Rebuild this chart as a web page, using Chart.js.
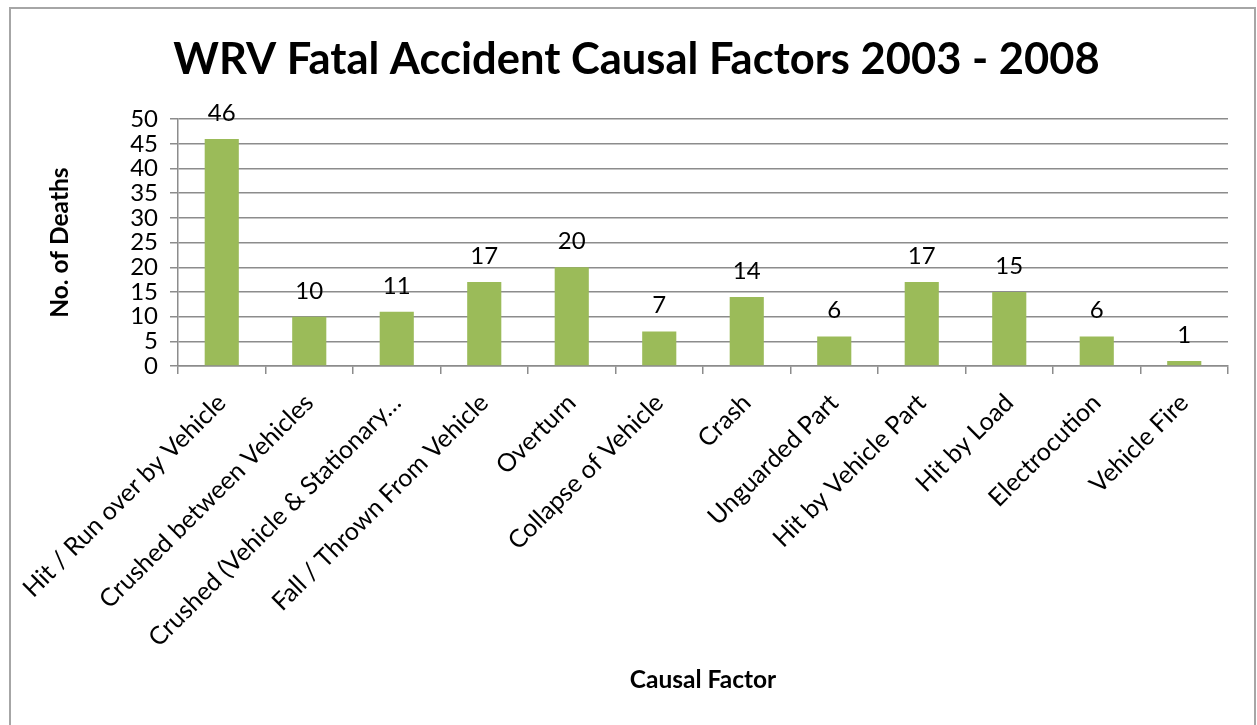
<!DOCTYPE html>
<html>
<head>
<meta charset="utf-8">
<script src="https://cdn.jsdelivr.net/npm/chart.js@4.4.0/dist/chart.umd.min.js"></script>
<style>
  body { margin: 0; background: #fff; }
  #wrap { position: relative; width: 1257px; height: 725px; overflow: hidden; }
  #frame { position: absolute; left: 9px; top: 7px; width: 1243px; height: 740px; border: 2px solid #a6a6a6; }
  canvas { position: absolute; left: 0; top: 0; }
</style>
</head>
<body>
<div id="wrap">
  <canvas id="mycanvas" width="1257" height="725"></canvas>
  <div id="frame"></div>
</div>
<script>
var categories = [
  "Hit / Run over by Vehicle",
  "Crushed between Vehicles",
  "Crushed (Vehicle & Stationary\u2026",
  "Fall / Thrown From Vehicle",
  "Overturn",
  "Collapse of Vehicle",
  "Crash",
  "Unguarded Part",
  "Hit by Vehicle Part",
  "Hit by Load",
  "Electrocution",
  "Vehicle Fire"
];
var deaths = [46, 10, 11, 17, 20, 7, 14, 6, 17, 15, 6, 1];
var yMax = 50;
var yStep = 5;

var gridColor = "#8c8c8c";
var fontName = "Lato";

// value labels over each bar
var barLabels = {
  id: "barLabels",
  afterDatasetsDraw: function(chart) {
    var ctx = chart.ctx;
    var meta = chart.getDatasetMeta(0);
    ctx.save();
    ctx.font = "24px " + fontName;
    ctx.fillStyle = "#000";
    ctx.textAlign = "center";
    ctx.textBaseline = "alphabetic";
    meta.data.forEach(function(bar, i) {
      ctx.fillText(deaths[i], bar.x, bar.y - 18);
    });
    ctx.restore();
  }
};

Chart.defaults.font.family = fontName;
Chart.defaults.color = "#000";

var ctx = document.getElementById("mycanvas");

var chart = new Chart(ctx, {
  type: "bar",
  data: {
    labels: categories,
    datasets: [{
      label: "No. of Deaths",
      data: deaths,
      backgroundColor: "#9bbb59",
      borderWidth: 0,
      categoryPercentage: 1,
      barPercentage: 0.39
    }]
  },
  plugins: [barLabels],
  options: {
    responsive: false,
    animation: false,
    devicePixelRatio: 1,
    layout: { padding: { left: 45, right: 29, top: 34, bottom: 30 } },
    plugins: {
      legend: { display: false },
      tooltip: { enabled: false },
      title: {
        display: true,
        text: "WRV Fatal Accident Causal Factors 2003 - 2008",
        color: "#000",
        font: { size: 43.5, weight: "bold" },
        padding: { top: 0, bottom: 33 }
      }
    },
    scales: {
      x: {
        grid: {
          drawOnChartArea: false,
          drawTicks: true,
          tickLength: 8,
          color: gridColor,
          lineWidth: 1.5
        },
        border: { color: gridColor, width: 1.5 },
        ticks: {
          autoSkip: false,
          maxRotation: 45,
          minRotation: 45,
          font: { size: 25 },
          color: "#000",
          padding: 14
        },
        title: {
          display: true,
          text: "Causal Factor",
          font: { size: 24.5, weight: "bold" },
          padding: { top: 4, bottom: 0 }
        },
        afterFit: function(scale) { scale.height = 725 - 30 - 366; }
      },
      y: {
        min: 0,
        max: yMax,
        grid: {
          color: gridColor,
          lineWidth: 1.5,
          tickLength: 8
        },
        border: { color: gridColor, width: 1.5 },
        ticks: {
          autoSkip: false,
          stepSize: yStep,
          font: { size: 24 },
          color: "#000",
          padding: 12
        },
        title: {
          display: true,
          text: "No. of Deaths",
          font: { size: 24.5, weight: "bold" },
          padding: { top: 0, bottom: 0 }
        },
        afterFit: function(scale) { scale.width = 178 - 45; }
      }
    }
  }
});
</script>
</body>
</html>
